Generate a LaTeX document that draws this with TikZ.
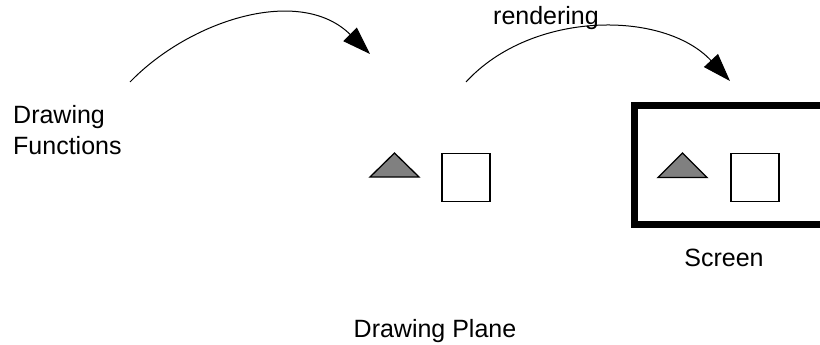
\documentclass[tikz,border=0pt]{standalone}
\usepackage{fontspec}
\setmainfont{Liberation Sans}
\usetikzlibrary{arrows.meta}
\tikzset{
  lbl/.style={inner sep=0pt, font=\fontsize{25}{31}\selectfont},
  figure/.style={draw, line width=1.3pt},
  flow/.style={line width=1pt, -{Triangle[length=28pt,width=19pt]}}
}
\begin{document}
\begin{tikzpicture}[x=1pt,y=-1pt]
\useasboundingbox (0,0) rectangle (820,345);

% screen frame, cut at the right border
\draw[line width=7.5pt] (830,105.5) -- (634.5,105.5) -- (634.5,224.5) -- (830,224.5);

\node[figure, minimum size=48pt, inner sep=0pt] (sq1) at (466,177.5) {};
\node[figure, minimum size=48pt, inner sep=0pt] (sq2) at (755,177.5) {};
\draw[figure, fill=gray] (370,177) -- (394.5,153) -- (419,177) -- cycle;
\draw[figure, fill=gray] (658,177.5) -- (682.5,153) -- (707,177.5) -- cycle;

\coordinate (a1) at (130,82);
\coordinate (b1) at (370,54);
\coordinate (a2) at (466,82);
\coordinate (b2) at (730,81);
\draw[flow] (a1) .. controls (190,20) and (300,-15) .. (b1);
\draw[flow] (a2) .. controls (532,10) and (664,10) .. (b2);

% base anchor of a two-line node sits on the last line
\node[lbl, anchor=base west, align=left] (func) at (13,154) {Drawing\\Functions};
\node[lbl, anchor=base] (rend) at (546,25) {rendering};
\node[lbl, anchor=base] (scr) at (724,266) {Screen};
\node[lbl, anchor=base] (plane) at (435,337) {Drawing Plane};
\end{tikzpicture}
\end{document}
